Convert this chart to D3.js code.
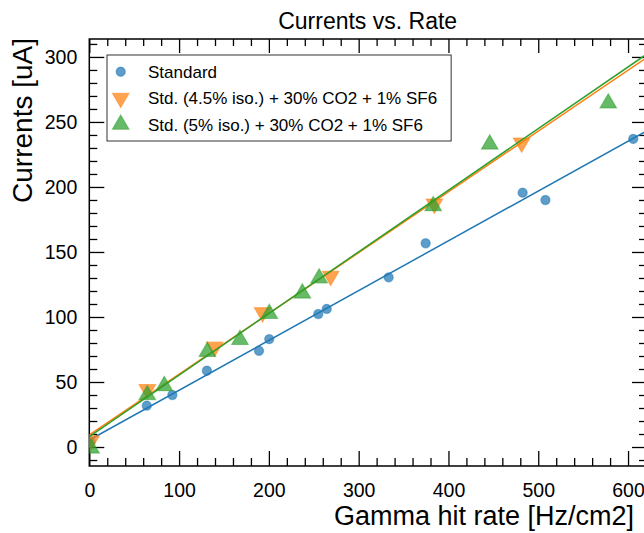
<!DOCTYPE html>
<html>
<head>
<meta charset="utf-8">
<script src="https://cdn.jsdelivr.net/npm/d3@7"></script>
<style>
  body { margin: 0; background: #fff; }
  svg text { font-family: "Liberation Sans", Arial, sans-serif; fill: #000; }
</style>
</head>
<body>
<div id="graph"></div>
<script>
// data
var seriesNames = ["Standard",
                   "Std. (4.5% iso.) + 30% CO2 + 1% SF6",
                   "Std. (5% iso.) + 30% CO2 + 1% SF6"]

var rateStd = [1.5, 64, 92.5, 131, 189, 200.4, 255, 264.4, 333.4, 374.6, 482.6, 508, 605.8]
var currStd = [4, 31.8, 40, 58.7, 74, 83, 102.3, 106.2, 130.5, 156.7, 195.6, 190, 237]

var rate45 = [2, 64.6, 139.6, 193, 268.8, 384.3, 481.5]
var curr45 = [5, 44.4, 77, 103.5, 131.5, 187, 234]

var rate5 = [2, 64.6, 83.5, 131.5, 167.8, 200.5, 237.3, 256, 383, 446, 578]
var curr5 = [-1, 40, 47, 73.3, 82.5, 102.5, 118.2, 129.8, 185.4, 232.8, 264.4]

// linear fits (intercept, slope)
var fitIntercept = [5.4, 9.2, 7.9]
var fitSlope = [0.383, 0.4676, 0.474]

var xTicks = [0, 100, 200, 300, 400, 500, 600]
var yTicks = [0, 50, 100, 150, 200, 250, 300]

var colors = ["#1f77b4", "#ff7f0e", "#2ca02c"]

/*
    dimensions
*/
var W = 644, H = 533
var plot = {left: 89.3, right: 646, top: 39, bottom: 466}

var svg = d3.select("#graph").append("svg")
            .attr("width", W)
            .attr("height", H)

var x = d3.scaleLinear().domain([0, 620]).range([plot.left, plot.right]),
    y = d3.scaleLinear().domain([-14.6, 313.8]).range([plot.bottom, plot.top])

// minor ticks
var xMinor = d3.range(0, 621, 20).filter(function(v) { return v % 100 !== 0 }),
    yMinor = d3.range(-10, 314, 10).filter(function(v) { return v % 50 !== 0 })

function addAxis(axis, tr, labels) {
    var g = svg.append("g").attr("transform", tr).call(axis)
    g.select(".domain").remove()
    g.selectAll("line").attr("stroke", "#000").attr("stroke-width", 1.3)
    if (!labels) g.selectAll("text").remove()
    else g.selectAll("text").style("font-size", "19.5px")
    return g
}

// bottom
addAxis(d3.axisBottom(x).tickValues(xTicks).tickSize(-15).tickPadding(17).tickFormat(d3.format("d")),
        "translate(0," + plot.bottom + ")", true)
addAxis(d3.axisBottom(x).tickValues(xMinor).tickSize(-8), "translate(0," + plot.bottom + ")", false)
// top
addAxis(d3.axisTop(x).tickValues(xTicks).tickSize(-14), "translate(0," + plot.top + ")", false)
addAxis(d3.axisTop(x).tickValues(xMinor).tickSize(-7), "translate(0," + plot.top + ")", false)
// left
addAxis(d3.axisLeft(y).tickValues(yTicks).tickSize(-15).tickPadding(12).tickFormat(d3.format("d")),
        "translate(" + plot.left + ",0)", true)
addAxis(d3.axisLeft(y).tickValues(yMinor).tickSize(-8), "translate(" + plot.left + ",0)", false)
// right
addAxis(d3.axisRight(y).tickValues(yTicks).tickSize(-14), "translate(" + plot.right + ",0)", false)
addAxis(d3.axisRight(y).tickValues(yMinor).tickSize(-7), "translate(" + plot.right + ",0)", false)

// frame
svg.append("rect")
   .attr("x", plot.left).attr("y", plot.top)
   .attr("width", plot.right - plot.left).attr("height", plot.bottom - plot.top)
   .attr("fill", "none").attr("stroke", "#000").attr("stroke-width", 1.5)

svg.append("clipPath").attr("id", "clip")
   .append("rect")
   .attr("x", plot.left).attr("y", plot.top)
   .attr("width", plot.right - plot.left).attr("height", plot.bottom - plot.top)

var gPlot = svg.append("g").attr("clip-path", "url(#clip)")

var series = [
    {rate: rateStd, curr: currStd, shape: "circle"},
    {rate: rate45, curr: curr45, shape: "down"},
    {rate: rate5, curr: curr5, shape: "up"}
]

function markerPath(shape) {
    if (shape === "circle") return d3.symbol().type(d3.symbolCircle).size(66)()
    return d3.symbol().type(d3.symbolTriangle).size(118)()
}

series.forEach(function(s, i) {
    var pts = s.rate.map(function(r, j) { return [r, s.curr[j]] })
    gPlot.selectAll(".pt" + i)
        .data(pts)
        .enter().append("path")
        .attr("d", markerPath(s.shape))
        .attr("transform", function(d) {
            return "translate(" + x(d[0]) + "," + y(d[1]) + ")" + (s.shape === "down" ? " rotate(180)" : "")
        })
        .attr("fill", colors[i])
        .attr("fill-opacity", 0.72)
        .attr("stroke", colors[i])
        .attr("stroke-opacity", 0.5)
        .attr("stroke-width", 1.2)

    var line = d3.line()
        .x(function(d) { return x(d) })
        .y(function(d) { return y(fitIntercept[i] + fitSlope[i] * d) })
    gPlot.append("path")
        .datum(x.domain())
        .attr("d", line)
        .attr("fill", "none")
        .attr("stroke", colors[i])
        .attr("stroke-width", 1.5)
})

// legend
var legend = svg.append("g")
var legendBox = legend.append("rect")
    .attr("fill", "#fff").attr("stroke", "#333").attr("stroke-width", 1)
var rowY = [71.7, 98, 124.5]
seriesNames.forEach(function(name, i) {
    legend.append("path")
        .attr("d", markerPath(series[i].shape))
        .attr("transform", "translate(120.7," + rowY[i] + ")" + (series[i].shape === "down" ? " rotate(180)" : ""))
        .attr("fill", colors[i]).attr("fill-opacity", 0.72)
        .attr("stroke", colors[i]).attr("stroke-opacity", 0.5).attr("stroke-width", 1.2)
    legend.append("text")
        .attr("x", 148).attr("y", rowY[i] + 6)
        .style("font-size", "17px")
        .text(name)
})
var bb = legend.node().getBBox()
legendBox.attr("x", 107).attr("y", 55)
         .attr("width", bb.x + bb.width + 14 - 107).attr("height", 86)

// titles
svg.append("text")
   .attr("x", (plot.left + plot.right) / 2).attr("y", 29)
   .attr("text-anchor", "middle")
   .style("font-size", "23px")
   .text("Currents vs. Rate")

svg.append("text")
   .attr("text-anchor", "end")
   .attr("transform", "translate(32," + 38 + ") rotate(-90)")
   .style("font-size", "28px")
   .text("Currents [uA]")

svg.append("text")
   .attr("x", 634).attr("y", 525)
   .attr("text-anchor", "end")
   .style("font-size", "27px")
   .text("Gamma hit rate [Hz/cm2]")
</script>
</body>
</html>
